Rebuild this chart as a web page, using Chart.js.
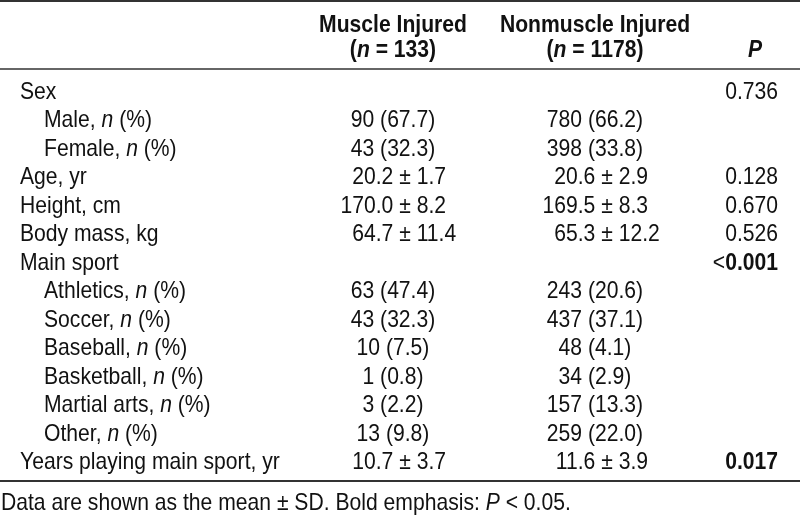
<!DOCTYPE html>
<html lang="en">
<head>
    <meta charset="UTF-8">
    <title>Muscle vs Nonmuscle Injured</title>
    <script src="https://cdn.jsdelivr.net/npm/chart.js"></script>
    <style>
        body { margin: 0; background: #fff; }
        #wrap { width: 800px; height: 517px; position: relative; }
    </style>
</head>
<body>
    <div id="wrap"><canvas id="tableChart"></canvas></div>

    <script>
        // table rows (*x* = italic, **x** = bold)
        const rowLabels = ['Sex', 'Male, *n* (%)', 'Female, *n* (%)', 'Age, yr', 'Height, cm', 'Body mass, kg',
            'Main sport', 'Athletics, *n* (%)', 'Soccer, *n* (%)', 'Baseball, *n* (%)', 'Basketball, *n* (%)',
            'Martial arts, *n* (%)', 'Other, *n* (%)', 'Years playing main sport, yr'];
        const rowIndent = [0, 1, 1, 0, 0, 0, 0, 1, 1, 1, 1, 1, 1, 0];
        const muscleVals = ['', '90 (67.7)', '43 (32.3)', '20.2 ± 1.7', '170.0 ± 8.2', '64.7 ± 11.4', '',
            '63 (47.4)', '43 (32.3)', '10 (7.5)', '1 (0.8)', '3 (2.2)', '13 (9.8)', '10.7 ± 3.7'];
        const nonmuscleVals = ['', '780 (66.2)', '398 (33.8)', '20.6 ± 2.9', '169.5 ± 8.3', '65.3 ± 12.2', '',
            '243 (20.6)', '437 (37.1)', '48 (4.1)', '34 (2.9)', '157 (13.3)', '259 (22.0)', '11.6 ± 3.9'];
        const pVals = ['0.736', '', '', '0.128', '0.670', '0.526', '<**0.001**', '', '', '', '', '', '', '**0.017**'];
        const headers = [['**Muscle Injured**', '**(*n* = 133)**'], ['**Nonmuscle Injured**', '**(*n* = 1178)**'], ['', '***P***']];
        const footnote = 'Data are shown as the mean ± SD. Bold emphasis: *P* < 0.05.';

        // column anchors (x scale units = px)
        const labelX = 20, indentX = 44, muscleX = 393, nonmuscleX = 595, pX = 778;
        const FONT = "'Liberation Sans', Arial, sans-serif";
        const SIZE = 24;
        const SX = 0.88;   // condensed look
        const INK = '#111';

        function segments(str) {
            const out = [];
            let bold = false, italic = false, buf = '';
            for (let i = 0; i < str.length; i++) {
                if (str[i] === '*' && str[i + 1] === '*') {
                    if (buf) out.push({ t: buf, b: bold, i: italic });
                    buf = ''; bold = !bold; i++;
                } else if (str[i] === '*') {
                    if (buf) out.push({ t: buf, b: bold, i: italic });
                    buf = ''; italic = !italic;
                } else buf += str[i];
            }
            if (buf) out.push({ t: buf, b: bold, i: italic });
            return out;
        }
        function fontOf(s) { return (s.i ? 'italic ' : '') + (s.b ? 'bold ' : '') + SIZE + 'px ' + FONT; }
        function widthOf(ctx, segs) {
            return segs.reduce((w, s) => { ctx.font = fontOf(s); return w + ctx.measureText(s.t).width * SX; }, 0);
        }
        function drawRich(ctx, str, x, y, align) {
            if (!str) return;
            const segs = segments(str);
            let start = x;
            if (align === 'pm' && str.includes('±')) {
                const left = segments(str.slice(0, str.indexOf('±')));
                ctx.font = fontOf({});
                start = x + 12 - widthOf(ctx, left) - ctx.measureText('±').width * SX / 2;
            } else if (align === 'center' || align === 'pm') {
                start = x - widthOf(ctx, segs) / 2;
            } else if (align === 'right') {
                start = x - widthOf(ctx, segs);
            }
            ctx.textBaseline = 'alphabetic';
            ctx.textAlign = 'left';
            ctx.fillStyle = INK;
            segs.forEach(s => {
                ctx.font = fontOf(s);
                ctx.save();
                ctx.scale(SX, 1);
                ctx.fillText(s.t, start / SX, y);
                ctx.restore();
                start += ctx.measureText(s.t).width * SX;
            });
        }

        const tablePlugin = {
            id: 'tableText',
            afterDatasetsDraw(chart) {
                const ctx = chart.ctx;
                const cap = SIZE * 0.355;
                ctx.save();
                // rules
                ctx.fillStyle = '#333';
                ctx.fillRect(0, 0, 800, 2);
                ctx.fillStyle = '#666';
                ctx.fillRect(0, 68, 800, 2);
                ctx.fillStyle = '#333';
                ctx.fillRect(0, 480, 800, 2);
                // headers
                drawRich(ctx, headers[0][0], muscleX, 32, 'center');
                drawRich(ctx, headers[0][1], muscleX, 57, 'center');
                drawRich(ctx, headers[1][0], nonmuscleX, 32, 'center');
                drawRich(ctx, headers[1][1], nonmuscleX, 57, 'center');
                drawRich(ctx, headers[2][1], 755, 57, 'center');
                // cells, placed by the chart's own scales
                const aligns = ['left', 'pm', 'pm', 'right'];
                chart.data.datasets.forEach((ds, di) => {
                    chart.getDatasetMeta(di).data.forEach((pt, i) => {
                        drawRich(ctx, ds.data[i].text, pt.x, pt.y + cap, aligns[di]);
                    });
                });
                drawRich(ctx, footnote, 1, 510, 'left');
                ctx.restore();
            }
        };

        const rowKeys = rowLabels.map((l, i) => 'r' + i);
        const cell = (vals, xFn) => vals.map((v, i) => ({ x: xFn(i), y: rowKeys[i], text: v }));

        new Chart(document.getElementById('tableChart'), {
            type: 'scatter',
            data: {
                datasets: [
                    { label: 'label', data: cell(rowLabels, i => rowIndent[i] ? indentX : labelX) },
                    { label: 'muscle', data: cell(muscleVals, () => muscleX) },
                    { label: 'nonmuscle', data: cell(nonmuscleVals, () => nonmuscleX) },
                    { label: 'P', data: cell(pVals, () => pX) }
                ]
            },
            options: {
                responsive: true,
                maintainAspectRatio: false,
                animation: false,
                events: [],
                elements: { point: { radius: 0 } },
                layout: { padding: { top: 76, bottom: 42, left: 0, right: 0 } },
                plugins: { legend: { display: false }, tooltip: { enabled: false } },
                scales: {
                    x: { type: 'linear', min: 0, max: 800, display: false },
                    y: { type: 'category', labels: rowKeys, offset: true, display: false }
                }
            },
            plugins: [tablePlugin]
        });
    </script>
</body>
</html>
